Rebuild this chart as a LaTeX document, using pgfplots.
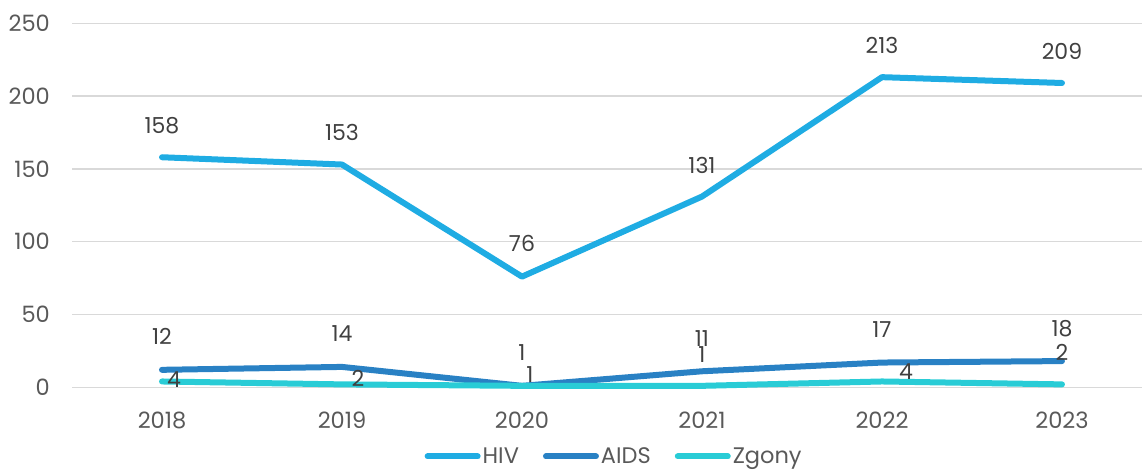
\documentclass[border=0pt]{standalone}
\usepackage{pgfplots}
\pgfplotsset{compat=1.18}
\usepackage{pgfplotstable}
\usepackage{fontspec}
\setmainfont{Poppins}
\definecolor{hivc}{RGB}{31,172,227}
\definecolor{aidsc}{RGB}{41,129,196}
\definecolor{zgc}{RGB}{41,204,214}
\definecolor{gridc}{RGB}{217,217,217}
\definecolor{tickc}{RGB}{89,89,89}
\definecolor{labc}{RGB}{64,64,64}

\pgfplotstableread{
x y dx dy
0 158 0 32
1 153 0 32
2 76 0 33
3 131 0 31
4 213 0 32
5 209 0 32
}\hivtab
\pgfplotstableread{
x y dx dy
0 12 0 33
1 14 0 33
2 1 0 33
3 11 0 33
4 17 0 33
5 18 0 32
}\aidstab
\pgfplotstableread{
x y dx dy
0 4 12 2
1 2 16 6
2 1 8 11
3 1 0 31
4 4 24 10
5 2 0 32
}\zgtab

\begin{document}
\begin{tikzpicture}
\useasboundingbox (0,0) rectangle (1142pt,470pt);
\begin{axis}[
  at={(72pt,82.7pt)}, anchor=south west,
  scale only axis, width=1080pt, height=364pt,
  xmin=-0.5, xmax=5.5, ymin=0, ymax=250,
  xtick={0,1,2,3,4,5}, xticklabels={2018,2019,2020,2021,2022,2023},
  ytick={0,50,100,150,200,250},
  ymajorgrids, grid style={draw=gridc, line width=1.3pt},
  axis line style={draw=none}, major tick style={draw=none},
  tick label style={font=\fontsize{22.5}{26}\selectfont, text=tickc, inner sep=0pt},
  xticklabel style={anchor=base, yshift=-41pt},
  yticklabel style={anchor=east, xshift=-22pt},
  /pgf/number format/assume math mode=true,
  clip=false,
  no markers,
  every axis plot/.append style={line width=6pt, line join=round, line cap=round},
  nodes near coords,
  visualization depends on={\thisrow{dx}\as\dx},
  visualization depends on={\thisrow{dy}\as\dy},
  every node near coord/.append style={anchor=center, xshift=\dx pt, yshift=\dy pt,
     font=\fontsize{22}{26}\selectfont, text=labc, inner sep=0pt},
  legend style={at={(axis description cs:0.502,-0.19)}, anchor=center, draw=none, fill=none,
     legend columns=3, font=\fontsize{22.5}{26}\selectfont, text=tickc,
     /tikz/every even column/.append style={column sep=22pt},
     nodes={inner sep=2pt}},
  legend cell align=left,
  legend image code/.code={\draw[#1, line width=6pt, line cap=round] (0pt,0pt) -- (50pt,0pt);},
]
\addplot[color=hivc] table[x=x,y=y]{\hivtab};
\addplot[color=aidsc] table[x=x,y=y]{\aidstab};
\addplot[color=zgc] table[x=x,y=y]{\zgtab};
\legend{HIV,AIDS,Zgony}
\end{axis}
\end{tikzpicture}
\end{document}
